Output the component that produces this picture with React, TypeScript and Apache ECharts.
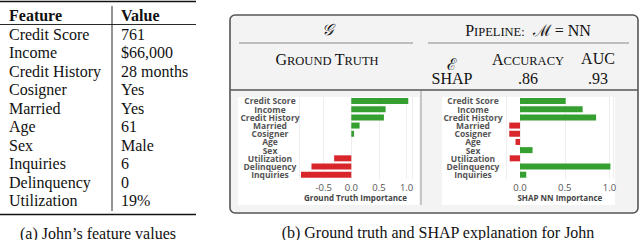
import React, { useEffect, useRef } from "react";
import * as echarts from "echarts";

// ---------- data ----------
const tableFeatures = ["Credit Score", "Income", "Credit History", "Cosigner", "Married", "Age", "Sex", "Inquiries", "Delinquency", "Utilization"];
const tableValues = ["761", "$66,000", "28 months", "Yes", "Yes", "61", "Male", "6", "0", "19%"];

const chartFeatures = ["Credit Score", "Income", "Credit History", "Married", "Cosigner", "Age", "Sex", "Utilization", "Delinquency", "Inquiries"];
const groundTruth = [1.03, 0.62, 0.59, 0.15, 0.05, 0, 0, -0.31, -0.72, -0.91];
const shapNN = [0.51, 0.7, 0.85, -0.12, -0.12, -0.05, 0.14, -0.115, 1.01, 0.07];

const explainer = "SHAP";
const accuracy = ".86";
const auc = ".93";

const GREEN = "#35a030";
const RED = "#d8262b";
const SERIF = "Liberation Serif, DejaVu Serif, serif";
const SANS = "Open Sans, Noto Sans, sans-serif";

const colorize = (arr: number[]) =>
  arr.map((v) => ({ value: v, itemStyle: { color: v >= 0 ? GREEN : RED } }));

function App() {
  const ref = useRef<HTMLDivElement>(null);
  useEffect(() => {
    if (!ref.current) return;
    const chart = echarts.init(ref.current, undefined, { renderer: "svg" });

    const txt = (x: number, y: number, text: string, extra: any = {}) => ({
      type: "text",
      x,
      y,
      z: 5,
      style: {
        text,
        fill: "#111",
        fontFamily: SERIF,
        fontSize: 16,
        align: "left",
        verticalAlign: "middle",
        ...extra,
      },
    });
    const hline = (x1: number, x2: number, y: number, w: number, color = "#111") => ({
      type: "line",
      z: 4,
      shape: { x1, y1: y, x2, y2: y },
      style: { stroke: color, lineWidth: w },
    });

    const rowY0 = 34.3;
    const rowStep = 18.5;
    const tableEls: any[] = [];
    tableEls.push(hline(0, 196, 1.5, 1.6));
    tableEls.push(hline(0, 196, 24.5, 0.9));
    tableEls.push(hline(0, 196, 214.5, 1.6));
    tableEls.push({
      type: "line",
      z: 4,
      shape: { x1: 112, y1: 6, x2: 112, y2: 211 },
      style: { stroke: "#111", lineWidth: 0.9 },
    });
    tableEls.push(txt(9, 15, "Feature", { fontWeight: "bold" }));
    tableEls.push(txt(121, 15, "Value", { fontWeight: "bold" }));
    tableFeatures.forEach((f, i) => {
      tableEls.push(txt(9, rowY0 + i * rowStep, f));
      tableEls.push(txt(121, rowY0 + i * rowStep, tableValues[i]));
    });
    tableEls.push(txt(98, 233, "(a) John\u2019s feature values", { align: "center" }));

    const sc = (big: number, small: number) => ({
      b: { fontFamily: SERIF, fontSize: big, fill: "#111", verticalAlign: "bottom", lineHeight: 18 },
      s: { fontFamily: SERIF, fontSize: small, fill: "#111", verticalAlign: "bottom", lineHeight: 18 },
    });

    const boxEls: any[] = [
      {
        type: "rect",
        z: -10,
        shape: { x: 230, y: 15, width: 408, height: 198, r: 5 },
        style: { fill: "#f3f3f3", stroke: "#555", lineWidth: 1.6 },
      },
      {
        type: "rect",
        z: -9,
        shape: { x: 238, y: 97, width: 181, height: 108 },
        style: { fill: "#ffffff" },
      },
      {
        type: "rect",
        z: -9,
        shape: { x: 442, y: 97, width: 173, height: 108 },
        style: { fill: "#ffffff" },
      },
      hline(230, 638, 90, 1.5, "#555"),
      {
        type: "line",
        z: 4,
        shape: { x1: 421, y1: 91, x2: 421, y2: 205 },
        style: { stroke: "#999", lineWidth: 1 },
      },
      hline(239, 413, 43, 1, "#888"),
      hline(428, 629, 43, 1, "#888"),
      txt(327, 29, "\uD835\uDCA2", { align: "center", fontStyle: "italic" }),
      {
        type: "text",
        x: 528,
        y: 29,
        z: 5,
        style: {
          text: "{b|P}{s|IPELINE:}{b|  \u2133 = NN}",
          rich: sc(16, 12.5),
          align: "center",
          verticalAlign: "middle",
        },
      },
      {
        type: "text",
        x: 327,
        y: 58,
        z: 5,
        style: {
          text: "{b|G}{s|ROUND} {b|T}{s|RUTH}",
          rich: sc(16, 12.5),
          align: "center",
          verticalAlign: "middle",
        },
      },
      txt(452, 64, "\u2130", { align: "center" }),
      {
        type: "text",
        x: 528,
        y: 58,
        z: 5,
        style: {
          text: "{b|A}{s|CCURACY}",
          rich: sc(16, 12.5),
          align: "center",
          verticalAlign: "middle",
        },
      },
      txt(598, 58, "AUC", { align: "center" }),
      txt(452, 78, explainer, { align: "center" }),
      txt(528, 78, accuracy, { align: "center" }),
      txt(598, 78, auc, { align: "center" }),
      txt(438, 232, "(b) Ground truth and SHAP explanation for John", { align: "center" }),
    ];

    const xAxisCommon = (name: string) => ({
      type: "value",
      name,
      nameLocation: "middle",
      nameGap: 14,
      nameTextStyle: { fontFamily: SANS, fontWeight: "bold", fontSize: 8, color: "#444" },
      axisLine: { show: false },
      axisTick: { show: false },
      splitLine: { lineStyle: { color: "#eeeeee", width: 1 } },
      axisLabel: {
        showMinLabel: false,
        showMaxLabel: false,
        fontFamily: SANS,
        fontSize: 9.5,
        color: "#555",
        margin: 4,
        formatter: (v: number) => v.toFixed(1),
      },
    });

    const yAxisCommon = (margin: number, grid: number) => ({
      type: "category",
      gridIndex: grid,
      data: chartFeatures,
      inverse: true,
      axisLine: { show: false },
      axisTick: { show: false },
      splitLine: { show: false },
      axisLabel: {
        align: "center",
        margin,
        fontFamily: SANS,
        fontWeight: "bold",
        fontSize: 8.5,
        lineHeight: 8,
        color: "#555",
        interval: 0,
      },
    });

    const leftMin = -0.95, leftMax = 1.1, leftUnit = 55.3, leftZero = 351.3;
    const rightMin = -0.15, rightMax = 1.04, rightUnit = 89.5, rightZero = 520;
    const gTop = 96.9, gHeight = 81.9;
    const lLeft = leftZero + leftMin * leftUnit;
    const lRight = leftZero + leftMax * leftUnit;
    const rLeft = rightZero + rightMin * rightUnit;
    const rRight = rightZero + rightMax * rightUnit;

    chart.setOption({
      animation: false,
      grid: [
        { left: lLeft, width: lRight - lLeft, top: gTop, height: gHeight },
        { left: rLeft, width: rRight - rLeft, top: gTop, height: gHeight },
      ],
      xAxis: [
        { ...xAxisCommon("Ground Truth Importance"), gridIndex: 0, min: leftMin, max: leftMax, splitNumber: 4 },
        { ...xAxisCommon("SHAP NN Importance"), gridIndex: 1, min: rightMin, max: rightMax, splitNumber: 2 },
      ],
      yAxis: [yAxisCommon(lLeft - 270, 0), yAxisCommon(rLeft - 473, 1)],
      series: [
        { type: "bar", xAxisIndex: 0, yAxisIndex: 0, data: colorize(groundTruth), barWidth: 6, z: 3 },
        { type: "bar", xAxisIndex: 1, yAxisIndex: 1, data: colorize(shapNN), barWidth: 6, z: 3 },
      ],
      graphic: [...tableEls, ...boxEls],
    });

    return () => chart.dispose();
  }, []);

  return (
    <div
      ref={ref}
      style={{ position: "fixed", left: 0, top: 0, width: 640, height: 240, background: "#fff" }}
    />
  );
}

export default App;
